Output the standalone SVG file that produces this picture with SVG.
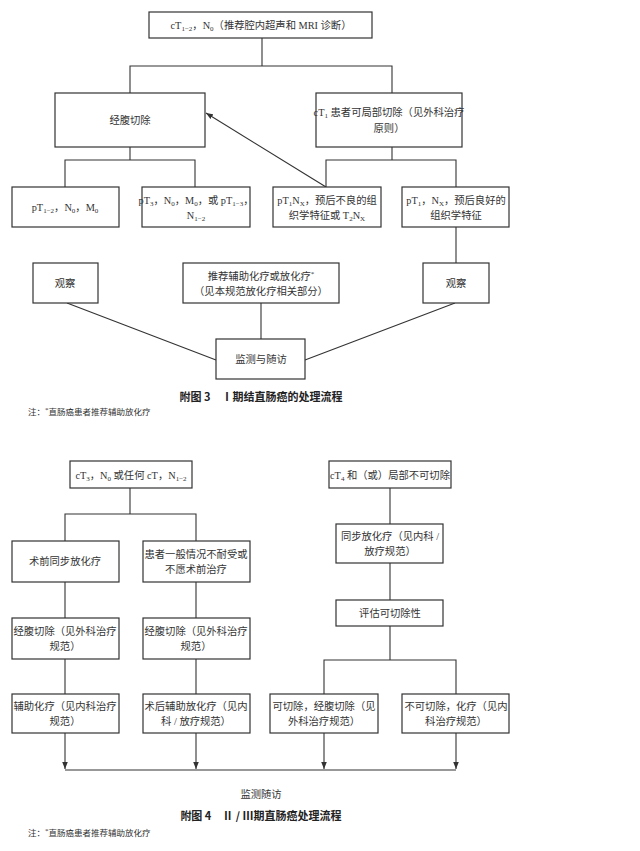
<svg xmlns="http://www.w3.org/2000/svg" width="640" height="851" viewBox="0 0 640 851">
<style>
rect{fill:#fff;stroke:#333;stroke-width:1.2}
line,.c{stroke:#333;stroke-width:1.1;fill:none}
.ah{fill:#333;stroke:none}
text{font-family:"Liberation Serif","Noto Sans CJK SC",serif;font-size:10.3px;fill:#333;text-anchor:middle}
.cap{font-family:"Noto Sans CJK SC",sans-serif;font-weight:bold;font-size:11px;fill:#222}
.note{font-size:8.5px;text-anchor:start}
.s{font-size:7px}
</style>
<defs><marker id="a" viewBox="0 0 10 10" refX="10" refY="5" markerWidth="7" markerHeight="7" orient="auto" markerUnits="userSpaceOnUse"><path class="ah" d="M0,1L10,5L0,9z"/></marker></defs>
<g id="connectors">
<path class="c" d="M262,38V66M130,93V66H392V93M130,147V160M65,187V160H195V187M392,147V160M326,187V160H456V187M456,227V263"/>
<line x1="326" y1="187" x2="206" y2="113" marker-end="url(#a)"/>
<path class="c" d="M67,303L216,360M261,303V339M455,303L305,360"/>
<path class="c" d="M130,488V514M65,541V514H196V541M65,582V618M196,582V618M65,659V694M196,659V694"/>
<path class="c" d="M390,488V524M390,563V600M390,626V660M324,694V660H456V694"/>
<path class="c" d="M65,770H456"/>
<line x1="65" y1="733" x2="65" y2="769" marker-end="url(#a)"/>
<line x1="196" y1="733" x2="196" y2="769" marker-end="url(#a)"/>
<line x1="324" y1="733" x2="324" y2="769" marker-end="url(#a)"/>
<line x1="456" y1="733" x2="456" y2="769" marker-end="url(#a)"/>
</g>
<g id="n1"><rect x="149" y="12" width="223" height="26"/><text x="261" y="29">cT<tspan class="s" dy="2">1−2</tspan><tspan dy="-2">，N</tspan><tspan class="s" dy="2">0</tspan><tspan dy="-2">（推荐腔内超声和 MRI 诊断）</tspan></text></g>
<g id="n2"><rect x="55" y="93" width="150" height="54"/><text x="130" y="124">经腹切除</text></g>
<g id="n3"><rect x="316" y="93" width="146" height="54"/><text x="389" y="116">cT<tspan class="s" dy="2">1</tspan><tspan dy="-2"> 患者可局部切除（见外科治疗</tspan></text><text x="389" y="132">原则）</text></g>
<g id="n4"><rect x="12" y="187" width="107" height="40"/><text x="65" y="211">pT<tspan class="s" dy="2">1−2</tspan><tspan dy="-2">，N</tspan><tspan class="s" dy="2">0</tspan><tspan dy="-2">，M</tspan><tspan class="s" dy="2">0</tspan></text></g>
<g id="n5"><rect x="142" y="187" width="108" height="40"/><text x="196" y="204">pT<tspan class="s" dy="2">3</tspan><tspan dy="-2">，N</tspan><tspan class="s" dy="2">0</tspan><tspan dy="-2">，M</tspan><tspan class="s" dy="2">0</tspan><tspan dy="-2">，或 pT</tspan><tspan class="s" dy="2">1−3</tspan><tspan dy="-2">，</tspan></text><text x="196" y="219">N<tspan class="s" dy="2">1−2</tspan></text></g>
<g id="n6"><rect x="273" y="187" width="108" height="40"/><text x="327" y="204">pT<tspan class="s" dy="2">1</tspan><tspan dy="-2">N</tspan><tspan class="s" dy="2">X</tspan><tspan dy="-2">，预后不良的组</tspan></text><text x="327" y="219">织学特征或 T<tspan class="s" dy="2">2</tspan><tspan dy="-2">N</tspan><tspan class="s" dy="2">X</tspan></text></g>
<g id="n7"><rect x="402" y="187" width="107" height="40"/><text x="456" y="204">pT<tspan class="s" dy="2">1</tspan><tspan dy="-2">，N</tspan><tspan class="s" dy="2">X</tspan><tspan dy="-2">，预后良好的</tspan></text><text x="456" y="219">组织学特征</text></g>
<g id="n8"><rect x="33" y="263" width="65" height="40"/><text x="65" y="287">观察</text></g>
<g id="n9"><rect x="183" y="263" width="156" height="40"/><text x="261" y="280">推荐辅助化疗或放化疗<tspan class="s" dy="-4">*</tspan></text><text x="261" y="295">（见本规范放化疗相关部分）</text></g>
<g id="n10"><rect x="423" y="263" width="66" height="40"/><text x="456" y="287">观察</text></g>
<g id="n11"><rect x="216" y="339" width="89" height="40"/><text x="261" y="363">监测与随访</text></g>
<text class="cap" x="261" y="401">附图 3　Ⅰ期结直肠癌的处理流程</text>
<text class="note" x="28" y="415">注：<tspan class="s" dy="-3">*</tspan><tspan dy="3">直肠癌患者推荐辅助放化疗</tspan></text>
<g id="m1"><rect x="70" y="461" width="122" height="27"/><text x="131" y="479">cT<tspan class="s" dy="2">3</tspan><tspan dy="-2">，N</tspan><tspan class="s" dy="2">0</tspan><tspan dy="-2"> 或任何 cT，N</tspan><tspan class="s" dy="2">1−2</tspan></text></g>
<g id="m2"><rect x="12" y="541" width="107" height="41"/><text x="65" y="565">术前同步放化疗</text></g>
<g id="m3"><rect x="143" y="541" width="107" height="41"/><text x="196" y="558">患者一般情况不耐受或</text><text x="196" y="573">不愿术前治疗</text></g>
<g id="m4"><rect x="12" y="618" width="107" height="41"/><text x="65" y="635">经腹切除（见外科治疗</text><text x="65" y="650">规范）</text></g>
<g id="m5"><rect x="143" y="618" width="107" height="41"/><text x="196" y="635">经腹切除（见外科治疗</text><text x="196" y="650">规范）</text></g>
<g id="m6"><rect x="12" y="694" width="107" height="39"/><text x="65" y="710">辅助化疗（见内科治疗</text><text x="65" y="725">规范）</text></g>
<g id="m7"><rect x="143" y="694" width="107" height="39"/><text x="196" y="710">术后辅助放化疗（见内</text><text x="196" y="725">科 / 放疗规范）</text></g>
<g id="m8"><rect x="329" y="461" width="122" height="27"/><text x="390" y="479">cT<tspan class="s" dy="2">4</tspan><tspan dy="-2"> 和（或）局部不可切除</tspan></text></g>
<g id="m9"><rect x="336" y="524" width="107" height="39"/><text x="390" y="540">同步放化疗（见内科 /</text><text x="390" y="555">放疗规范）</text></g>
<g id="m10"><rect x="336" y="600" width="107" height="26"/><text x="390" y="617">评估可切除性</text></g>
<g id="m11"><rect x="270" y="694" width="108" height="39"/><text x="324" y="710">可切除，经腹切除（见</text><text x="324" y="725">外科治疗规范）</text></g>
<g id="m12"><rect x="402" y="694" width="107" height="39"/><text x="456" y="710">不可切除，化疗（见内</text><text x="456" y="725">科治疗规范）</text></g>
<text x="261" y="798">监测随访</text>
<text class="cap" x="261" y="820">附图 4　Ⅱ / Ⅲ期直肠癌处理流程</text>
<text class="note" x="28" y="836">注：<tspan class="s" dy="-3">*</tspan><tspan dy="3">直肠癌患者推荐辅助放化疗</tspan></text>
</svg>
